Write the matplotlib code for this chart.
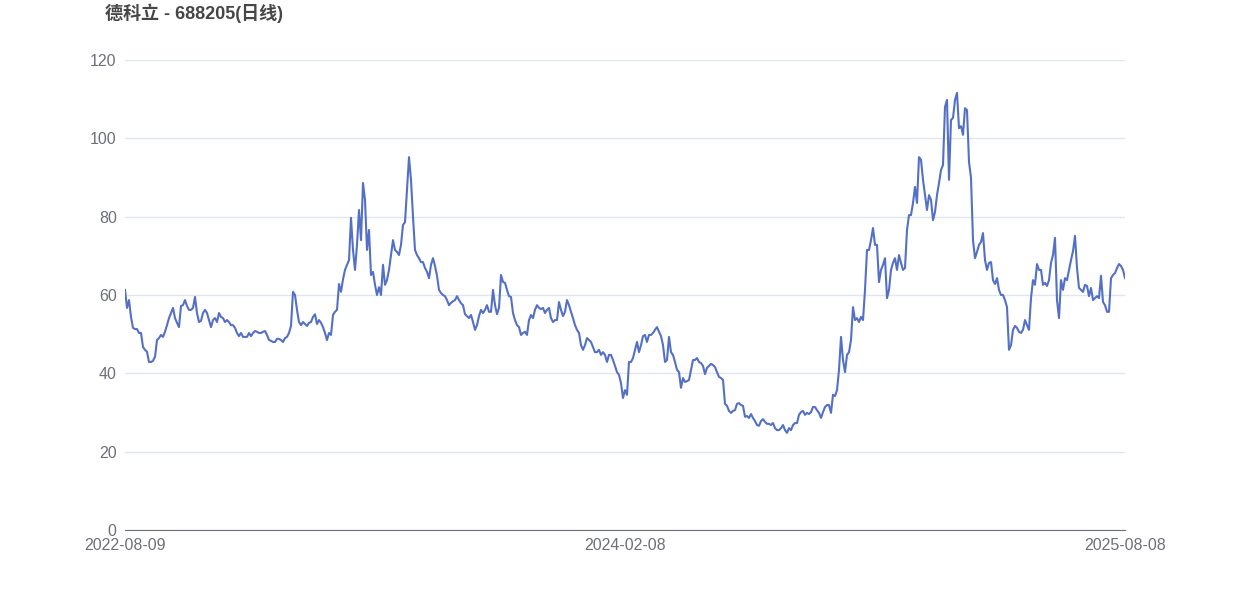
import matplotlib.pyplot as plt

plt.rcParams['font.family'] = ['Liberation Sans', 'Noto Sans CJK SC', 'DejaVu Sans']

# 收盘价(按图读取, 等间隔采样)
prices = [
    61.3, 56.7, 58.7, 54.4, 51.6, 51.3, 51.3, 50.3, 50.3, 46.7,
    46.0, 45.5, 42.9, 42.9, 43.2, 44.2, 48.5, 49.0, 49.8, 49.3,
    50.6, 52.3, 54.1, 55.4, 56.7, 54.1, 52.9, 51.8, 57.2, 57.4,
    58.7, 57.2, 56.2, 56.2, 56.7, 59.5, 55.4, 53.1, 53.4, 55.4,
    56.2, 55.4, 53.6, 51.8, 53.6, 54.1, 53.1, 55.4, 54.4, 54.1,
    53.1, 53.6, 53.1, 52.3, 52.3, 51.6, 50.3, 49.5, 50.3, 49.3,
    49.3, 49.3, 50.3, 49.5, 50.3, 50.8, 50.6, 50.3, 50.3, 50.6,
    50.8, 49.8, 48.5, 48.3, 48.0, 48.0, 48.8, 48.8, 48.5, 48.0,
    49.0, 49.3, 50.3, 52.1, 60.8, 60.0, 56.2, 53.1,
    52.3, 53.1, 52.6, 52.1, 52.9, 53.1, 54.4, 55.1, 52.6, 53.6,
    52.9, 51.8, 50.3, 48.5, 50.3, 49.8, 54.9, 55.7, 56.2, 62.8,
    60.8, 64.0, 66.4, 67.7, 68.9, 79.7, 71.5, 66.4, 72.8, 81.7,
    74.0, 88.6, 84.3, 71.5, 76.6, 65.1, 65.9, 62.6, 60.0, 62.0,
    60.0, 67.7, 62.6, 63.8, 66.4, 70.2, 74.0, 71.5, 71.0, 70.2,
    72.8, 77.9, 78.6, 86.8, 95.2, 89.4, 80.0, 71.5, 70.2, 69.4,
    68.4, 68.4, 66.9, 65.9, 64.3, 67.7, 69.4, 67.4, 64.9, 61.3,
    60.5, 60.0, 59.7, 58.7, 57.4, 58.0, 58.4, 58.7, 59.7, 58.7,
    57.9, 57.4, 55.1, 54.6, 54.1, 54.9, 53.1, 51.1, 52.3, 54.6,
    56.2, 55.4, 56.2, 57.4, 55.7, 55.7, 61.3, 57.4, 55.1, 56.7,
    65.1, 63.3, 63.1, 61.3, 59.7, 59.5, 55.4, 53.6, 52.3, 51.8,
    49.8, 50.3, 50.6, 49.8, 53.6, 54.9, 54.1, 56.2, 57.4, 56.7,
    56.4, 56.7, 55.4, 56.2, 56.7, 54.1, 53.1, 53.6, 53.6, 58.2,
    56.2, 54.6, 55.7, 58.7, 57.4, 55.7, 54.1, 52.3, 51.1, 50.3,
    47.2, 46.0, 47.2, 49.0, 48.5, 48.0, 46.7, 45.4, 45.4, 46.0,
    44.7, 45.4, 44.7, 42.9, 44.7, 44.7, 43.4, 41.9, 40.3, 39.6,
    37.5, 33.7, 35.7, 34.5, 42.9, 42.9, 43.9, 46.0, 48.0, 45.4,
    47.2, 49.5, 49.8, 48.0, 49.8, 49.8, 50.3, 51.1, 51.8, 50.6,
    49.5, 47.2, 42.9, 43.4, 49.3, 45.4, 44.7, 42.9, 40.9, 40.3,
    36.3, 38.8, 37.8, 38.0, 38.3, 40.9, 43.4, 43.4, 43.9, 42.9,
    42.6, 41.9, 39.8, 41.4, 41.9, 42.4, 42.1, 41.6, 40.3, 39.1,
    38.8, 38.3, 32.2, 31.7, 30.4, 29.9, 30.4, 30.6, 32.2, 32.4,
    31.9, 31.7, 28.9, 29.1, 28.6, 29.6, 28.6, 27.8, 26.8, 26.6,
    27.8, 28.3, 27.6, 27.1, 27.1, 26.8, 27.3, 26.0, 25.5, 25.5,
    26.0, 26.8, 25.5, 24.8, 26.0, 25.5, 26.8, 27.3, 27.3, 29.4,
    30.1, 30.4, 29.4, 29.9, 29.6, 30.1, 31.4, 31.4, 30.6, 29.9,
    28.6, 30.1, 31.4, 31.9, 31.9, 29.9, 34.5, 34.2, 35.7, 40.9,
    49.3, 43.4, 40.3, 44.7, 45.4, 48.5, 56.9, 53.6, 54.1, 53.1,
    54.4, 53.6, 61.3, 71.5, 71.5, 74.0, 77.1, 72.8, 72.8, 63.3,
    66.4, 67.7, 69.4, 59.2, 61.3, 66.4, 68.2, 69.4, 66.4, 70.2,
    68.2, 66.4, 66.9, 76.6, 80.4, 80.4, 83.5, 87.6, 83.5, 95.2,
    94.5, 89.4, 85.5, 81.7, 85.5, 84.3, 79.1, 81.2, 85.5, 88.6,
    91.9, 93.2, 108.0, 109.8, 89.4, 104.7, 105.2, 109.8, 111.6, 102.6,
    103.1, 100.9, 107.7, 107.2, 94.0, 89.9, 74.0, 69.4, 71.0, 72.8,
    73.5, 75.8, 68.9, 66.4, 68.2, 68.4, 63.8, 62.8, 64.3, 61.3,
    60.0, 60.0, 58.7, 56.9, 46.0, 47.2, 51.1, 52.1, 51.6, 50.6,
    50.3, 51.1, 53.6, 52.3, 51.1, 59.2, 63.8, 62.6, 67.9, 66.4,
    66.4, 62.6, 63.1, 62.3, 63.8, 68.2, 70.2, 74.6, 58.7, 54.1,
    63.8, 61.3, 64.3, 63.8, 66.4, 68.9, 71.2, 75.1, 66.9, 61.8,
    61.3, 60.8, 62.6, 62.3, 59.7, 61.8, 58.7, 59.2, 59.7, 59.2,
    64.9, 58.2, 57.4, 55.7, 55.7, 64.3, 65.1, 65.6, 66.9, 67.9,
    67.4, 66.4, 64.3,
]
date_labels = ['2022-08-09', '2024-02-08', '2025-08-08']
y_ticks = [0, 20, 40, 60, 80, 100, 120]

fig = plt.figure(figsize=(12.5, 6), dpi=100)
ax = fig.add_axes([0.1, 0.1167, 0.8, 0.7833])

n = len(prices)
ax.plot(range(n), prices, color='#5470C6', linewidth=1.5)

ax.set_xlim(0, n - 1)
ax.set_ylim(0, 120)
ax.set_yticks(y_ticks)
ax.set_xticks([0, (n - 1) / 2, n - 1])
ax.set_xticklabels(date_labels)
ax.grid(axis='y', color='#E0E6F1', linewidth=1)
ax.set_axisbelow(True)
for side in ['top', 'right', 'left']:
    ax.spines[side].set_visible(False)
ax.spines['bottom'].set_color('#6E7079')
ax.tick_params(axis='both', length=0, labelsize=11.5, colors='#6E7079')
ax.tick_params(axis='y', pad=6)
ax.tick_params(axis='x', pad=6)

fig.text(0.084, 0.978, '德科立 - 688205(日线)', fontsize=13, fontweight='bold',
         color='#464646', ha='left', va='center')

fig.savefig('out.png')
